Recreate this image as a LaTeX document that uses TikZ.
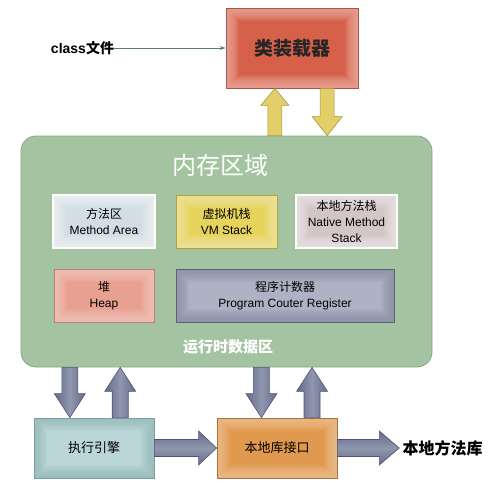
\documentclass[tikz,border=0pt]{standalone}
\usepackage{fontspec}
\setmainfont{Liberation Sans}
\newfontfamily\cjk{Noto Sans CJK SC}
\usetikzlibrary{calc,arrows.meta}
\definecolor{loadIn}{HTML}{D6604A}
\definecolor{loadOut}{HTML}{EFB4A8}
\definecolor{loadBd}{HTML}{A8574A}
\definecolor{memFill}{HTML}{A4C3A1}
\definecolor{memBd}{HTML}{8AA887}
\definecolor{areaIn}{HTML}{D2DEE4}
\definecolor{areaOut}{HTML}{F4F7F8}
\definecolor{vmIn}{HTML}{E6D35C}
\definecolor{vmOut}{HTML}{F3EAAE}
\definecolor{vmBd}{HTML}{B3A33A}
\definecolor{natIn}{HTML}{D2C6C6}
\definecolor{natOut}{HTML}{F0ECEC}
\definecolor{heapIn}{HTML}{E8A090}
\definecolor{heapOut}{HTML}{F6CEC5}
\definecolor{heapBd}{HTML}{C07E70}
\definecolor{pcIn}{HTML}{AEB2C4}
\definecolor{pcOut}{HTML}{8A8FA6}
\definecolor{pcBd}{HTML}{5C6276}
\definecolor{exIn}{HTML}{BBD6D6}
\definecolor{exOut}{HTML}{96BABA}
\definecolor{exBd}{HTML}{7A9D9D}
\definecolor{niIn}{HTML}{E0994F}
\definecolor{niOut}{HTML}{F0C69C}
\definecolor{niBd}{HTML}{A9733F}
\definecolor{yArr}{HTML}{E2CF6A}
\definecolor{yArrBd}{HTML}{A5963A}
\definecolor{bArr}{HTML}{646C8A}
\definecolor{bArrHi}{HTML}{8F96AE}
\definecolor{bArrBd}{HTML}{4E5570}
\definecolor{clsArr}{HTML}{5E7F68}
\newcommand\blockarrow[6]{%
  \coordinate (ba-h) at ($(#2)!#5!(#1)$);
  \path[#6] ($(#1)!#3!90:(#2)$) -- ($(ba-h)!#3!-90:(#1)$) -- ($(ba-h)!#4!-90:(#1)$)
    -- (#2) -- ($(ba-h)!#4!90:(#1)$) -- ($(ba-h)!#3!90:(#1)$) -- ($(#1)!#3!-90:(#2)$) -- cycle;
}
\tikzset{
  glow/.style 2 args={fill=#1, path picture={
      \foreach \w in {26,24,...,2}
        \draw[#2, opacity=0.1, line width=\w pt] (path picture bounding box.south west) rectangle (path picture bounding box.north east);}},
  box/.style={draw, line width=0.8pt, inner sep=0pt, align=center},
  inbox/.style={box, font=\fontsize{12}{16}\selectfont},
  yarrow/.style={fill=yArr, draw=yArrBd, line width=0.6pt},
  varrow/.style={draw=bArrBd, line width=0.6pt, left color=bArr, right color=bArr, middle color=bArrHi},
  harrow/.style={draw=bArrBd, line width=0.6pt, top color=bArr, bottom color=bArr, middle color=bArrHi},
}
\begin{document}
\begin{tikzpicture}[x=1pt,y=-1pt]
\useasboundingbox (0,0) rectangle (503,485);
% class loader
\node[box, draw=loadBd, glow={loadIn}{loadOut}, minimum width=132pt, minimum height=80pt,
  font=\cjk\bfseries\fontsize{19}{22}\selectfont, text=black!85] (loader) at (292,48) {类装载器};
\node[inner sep=0pt, font=\bfseries\fontsize{14}{16}\selectfont] (cls) at (82.5,48) {class{\cjk 文件}};
\draw[clsArr, line width=0.7pt, -{Stealth[length=6pt,width=4pt]}] (cls.east) -- (loader.west);
% memory region
\node[draw=memBd, fill=memFill, line width=0.8pt, rounded corners=15pt, minimum width=411pt, minimum height=231pt] (mem) at (226.5,251.5) {};
\node[inner sep=0pt, text=white, font=\cjk\fontsize{24}{28}\selectfont] (title) at (220,165) {内存区域};
\node[inbox, draw=white, line width=1.6pt, glow={areaIn}{areaOut}, minimum width=102pt, minimum height=53pt] (area) at (104,221.5) {{\cjk 方法区}\\Method Area};
\node[inbox, draw=vmBd, glow={vmIn}{vmOut}, minimum width=101pt, minimum height=53pt] (vm) at (226.5,221.5) {{\cjk 虚拟机栈}\\VM Stack};
\node[inbox, draw=white, line width=1.6pt, glow={natIn}{natOut}, minimum width=101pt, minimum height=53pt] (nat) at (346.5,221.5) {{\cjk 本地方法栈}\\Native Method\\Stack};
\node[inbox, draw=heapBd, glow={heapIn}{heapOut}, minimum width=100pt, minimum height=53pt] (heap) at (104,295.5) {{\cjk 堆}\\Heap};
\node[inbox, draw=pcBd, glow={pcIn}{pcOut}, minimum width=218pt, minimum height=53pt] (pc) at (285,295.5) {{\cjk 程序计数器}\\Program Couter Register};
\node[inner sep=0pt, text=white, font=\cjk\bfseries\fontsize{15}{18}\selectfont] (rt) at (228,347) {运行时数据区};
% bottom boxes
\node[box, draw=exBd, glow={exIn}{exOut}, minimum width=120pt, minimum height=60pt,
  font=\cjk\fontsize{13}{16}\selectfont] (exec) at (94,448) {执行引擎};
\node[box, draw=niBd, glow={niIn}{niOut}, minimum width=120pt, minimum height=60pt,
  font=\cjk\fontsize{13}{16}\selectfont] (ni) at (277,448) {本地库接口};
\node[inner sep=3pt, font=\cjk\bfseries\fontsize{16}{18}\selectfont] (lib) at (442.5,448) {本地方法库};
% yellow arrows
\coordinate (y1) at ($(loader.south west)!0.371!(loader.south east)$);
\coordinate (y2) at ($(loader.south west)!0.765!(loader.south east)$);
\blockarrow{y1 |- mem.north}{y1}{7pt}{14pt}{17pt}{yarrow}
\blockarrow{y2}{y2 |- mem.north}{7pt}{15pt}{19pt}{yarrow}
% blue vertical arrows
\coordinate (e1) at ($(exec.north west)!0.3!(exec.north east)$);
\coordinate (e2) at ($(exec.north west)!0.717!(exec.north east)$);
\coordinate (n1) at ($(ni.north west)!0.371!(ni.north east)$);
\coordinate (n2) at ($(ni.north west)!0.79!(ni.north east)$);
\blockarrow{e1 |- mem.south}{e1}{8pt}{15.5pt}{24pt}{varrow}
\blockarrow{e2}{e2 |- mem.south}{8pt}{15.5pt}{24pt}{varrow}
\blockarrow{n1 |- mem.south}{n1}{8pt}{15.5pt}{24pt}{varrow}
\blockarrow{n2}{n2 |- mem.south}{8pt}{15.5pt}{24pt}{varrow}
% horizontal arrows
\blockarrow{exec.east}{ni.west}{8.5pt}{17pt}{18pt}{harrow}
\blockarrow{ni.east}{lib.west}{8.5pt}{17pt}{20pt}{harrow}
\end{tikzpicture}
\end{document}
